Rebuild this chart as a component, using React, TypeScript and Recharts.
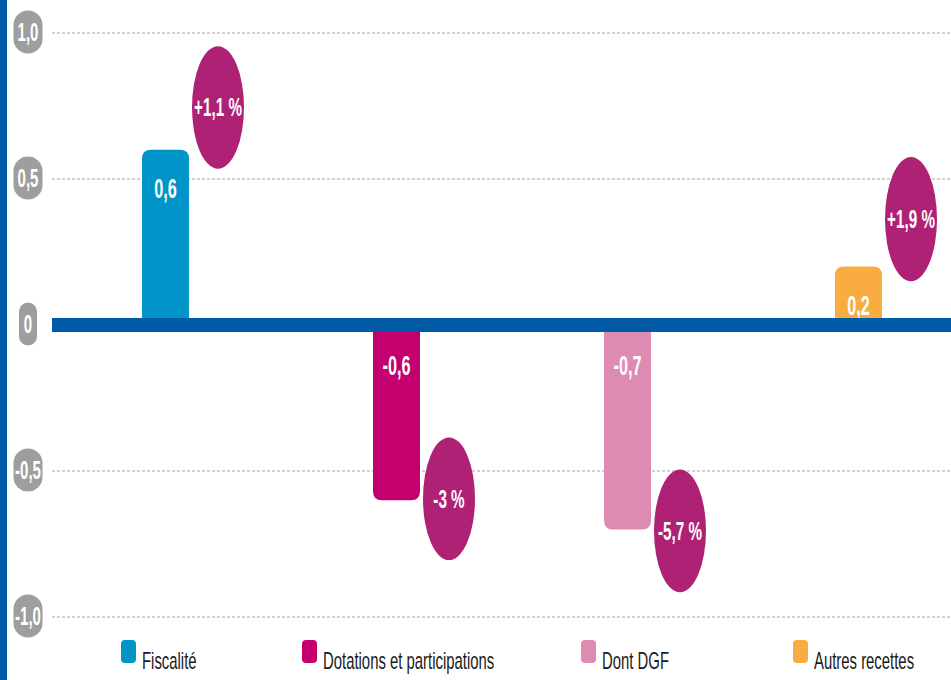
import React from 'react';
import { ComposedChart, Bar, XAxis, YAxis, CartesianGrid, ReferenceLine, Cell } from 'recharts';

const categories = ['Fiscalité', 'Dotations et participations', 'Dont DGF', 'Autres recettes'];
const values = [0.6, -0.6, -0.7, 0.2];
const valueLabels = ['0,6', '-0,6', '-0,7', '0,2'];
const changeLabels = ['+1,1 %', '-3 %', '-5,7 %', '+1,9 %'];
const bubbleLow = [0.535, -0.805, -0.915, 0.15];
const bubbleHigh = [0.955, -0.385, -0.495, 0.575];
const yTicks = [-1, -0.5, 0, 0.5, 1];
const yTickLabels = ['-1,0', '-0,5', '0', '0,5', '1,0'];

const COLORS = ['#0094C9', '#C4006F', '#DE8BB1', '#F9AC40'];
const BUBBLE = '#AE2174';
const BLUE = '#005AA6';
const PILL = '#9E9E9E';
const FONT = "'Liberation Sans', Arial, sans-serif";

const data = categories.map((name, i) => ({
  name,
  value: values[i],
  label: valueLabels[i],
  change: changeLabels[i],
  bubble: [bubbleLow[i], bubbleHigh[i]],
}));

const CText = ({ x, y, size, sx, children, weight = 700, fill = '#fff' }: any) => (
  <text
    transform={`translate(${x},${y + size * 0.358}) scale(${sx},1)`}
    fontSize={size}
    fontWeight={weight}
    fill={fill}
    textAnchor="middle"
    fontFamily={FONT}
  >
    {children}
  </text>
);

const BarShape = (props: any) => {
  const { x, y, width, height, index, payload } = props;
  const fill = props.fill || COLORS[index];
  const top = Math.min(y, y + height);
  const h = Math.abs(height);
  const r = 9;
  const positive = payload.value >= 0;
  let d: string;
  if (positive) {
    d = `M${x},${top + h} L${x},${top + r} Q${x},${top} ${x + r},${top} L${x + width - r},${top} Q${x + width},${top} ${x + width},${top + r} L${x + width},${top + h} Z`;
  } else {
    const b = top + h;
    d = `M${x},${top} L${x},${b - r} Q${x},${b} ${x + r},${b} L${x + width - r},${b} Q${x + width},${b} ${x + width},${b - r} L${x + width},${top} Z`;
  }
  const cy = positive ? top + 38 : top + 40;
  return (
    <g>
      <path d={d} fill={fill} />
      <CText x={x + width / 2} y={cy} size={28} sx={0.58}>
        {payload.label}
      </CText>
    </g>
  );
};

const BubbleShape = (props: any) => {
  const { x, y, width, height, payload } = props;
  const top = Math.min(y, y + height);
  const h = Math.abs(height);
  const cx = x + width / 2;
  const cy = top + h / 2;
  return (
    <g>
      <ellipse cx={cx} cy={cy} rx={width / 2} ry={h / 2} fill={BUBBLE} />
      <CText x={cx} y={cy} size={25} sx={0.61}>
        {payload.change}
      </CText>
    </g>
  );
};

const YTick = (props: any) => {
  const { y, payload } = props;
  const idx = yTicks.indexOf(payload.value);
  const label = yTickLabels[idx] ?? String(payload.value);
  const w = label.length <= 1 ? 18 : 29;
  const hgt = 43;
  const cx = 28;
  const cy = y - 1;
  return (
    <g>
      <rect x={cx - w / 2} y={cy - hgt / 2} width={w} height={hgt} rx={w / 2} ry={Math.min(w / 2, 15)} fill={PILL} />
      <CText x={cx} y={cy} size={25} sx={0.6}>
        {label}
      </CText>
    </g>
  );
};

const legendLeft = [121, 302, 581, 793];

export default function App() {
  return (
    <div
      style={{
        position: 'absolute',
        left: 0,
        top: 0,
        width: 951,
        height: 680,
        overflow: 'hidden',
        background: '#fff',
      }}
    >
      <ComposedChart
        width={1010}
        height={680}
        data={data}
        margin={{ top: 33, right: 9, bottom: 63, left: 0 }}
        barGap={3}
      >
        <CartesianGrid vertical={false} stroke="#A3A3A3" strokeDasharray="3 2" />
        <XAxis dataKey="name" hide padding={{ left: 25, right: 0 }} />
        <YAxis
          width={52}
          domain={[-1, 1]}
          ticks={yTicks}
          axisLine={false}
          tickLine={false}
          tick={<YTick />}
          interval={0}
        />
        <Bar dataKey="value" barSize={47} shape={<BarShape />} isAnimationActive={false}>
          {data.map((d, i) => (
            <Cell key={d.name} fill={COLORS[i]} />
          ))}
        </Bar>
        <Bar dataKey="bubble" barSize={52} shape={<BubbleShape />} isAnimationActive={false} />
        <ReferenceLine y={0} stroke={BLUE} strokeWidth={14} />
      </ComposedChart>
      <div style={{ position: 'absolute', left: 0, top: 0, width: 7, height: 680, background: BLUE }} />
      {categories.map((c, i) => (
        <div key={c} style={{ position: 'absolute', left: legendLeft[i], top: 640, height: 36 }}>
          <div
            style={{
              position: 'absolute',
              left: 0,
              top: 0,
              width: 15,
              height: 23,
              borderRadius: 4,
              background: COLORS[i],
            }}
          />
          <div
            style={{
              position: 'absolute',
              left: 21,
              top: 6,
              fontFamily: FONT,
              fontSize: 24,
              lineHeight: '30px',
              color: '#1a1a1a',
              whiteSpace: 'nowrap',
              transform: 'scaleX(0.62)',
              transformOrigin: 'left center',
            }}
          >
            {c}
          </div>
        </div>
      ))}
    </div>
  );
}
